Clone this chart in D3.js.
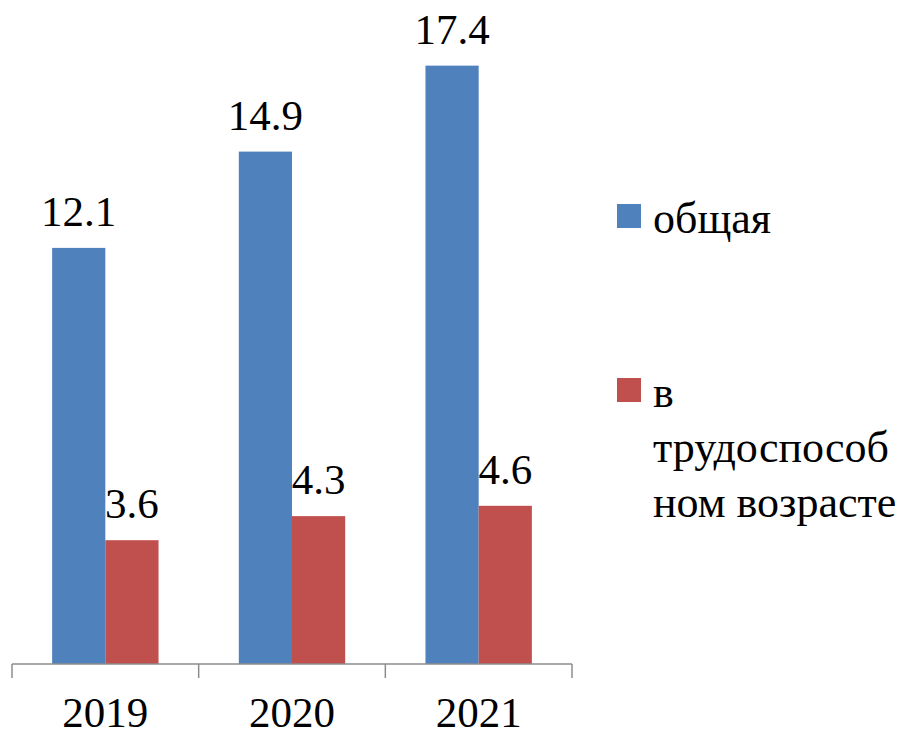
<!DOCTYPE html>
<html>
<head>
<meta charset="utf-8">
<script src="https://cdn.jsdelivr.net/npm/d3@7"></script>
<style>
  body { margin: 0; background: #fff; }
</style>
</head>
<body>
<script>
const years = ["2019", "2020", "2021"];
const seriesNames = ["общая", "в трудоспособном возрасте"];
const total = [12.1, 14.9, 17.4];
const working = [3.6, 4.3, 4.6];
const legendLines = [["общая"], ["в", "трудоспособ", "ном возрасте"]];

const width = 923;
const height = 738;
const colors = ["#4F81BD", "#C0504D"];
const font = "'Liberation Serif', 'Times New Roman', Times, 'DejaVu Serif', serif";

const svg = d3
  .select("body")
  .append("svg")
  .attr("width", width)
  .attr("height", height)
  .style("font-family", font);

const x = d3.scaleBand().domain(years).range([12, 572]);
const inset = x.bandwidth() * 0.215;
const x1 = d3
  .scaleBand()
  .domain([0, 1])
  .range([inset, x.bandwidth() - inset]);
const y = d3.scaleLinear().domain([0, 18]).range([664, 45]);

const rows = years.map((yr, i) => [
  { year: yr, s: 0, v: total[i] },
  { year: yr, s: 1, v: working[i] },
]);

const groups = svg
  .selectAll("g.grp")
  .data(rows)
  .enter()
  .append("g")
  .attr("class", "grp")
  .attr("transform", (d) => `translate(${x(d[0].year)},0)`);

groups
  .selectAll("rect")
  .data((d) => d)
  .enter()
  .append("rect")
  .attr("x", (d) => x1(d.s))
  .attr("y", (d) => y(d.v))
  .attr("width", x1.bandwidth())
  .attr("height", (d) => y(0) - y(d.v))
  .attr("fill", (d) => colors[d.s]);

groups
  .selectAll("text")
  .data((d) => d)
  .enter()
  .append("text")
  .text((d) => d.v.toFixed(1))
  .attr("x", (d) => x1(d.s) + x1.bandwidth() / 2)
  .attr("y", (d) => y(d.v) - 22)
  .attr("text-anchor", "middle")
  .attr("font-size", 43)
  .attr("fill", "#000");

// axis: line + ticks at category boundaries
const bounds = years.map((d) => x(d)).concat([x.range()[1]]);
svg
  .append("line")
  .attr("x1", bounds[0])
  .attr("x2", bounds[bounds.length - 1])
  .attr("y1", y(0))
  .attr("y2", y(0))
  .attr("stroke", "#8c8c8c")
  .attr("stroke-width", 1.5);
svg
  .selectAll("line.tick")
  .data(bounds)
  .enter()
  .append("line")
  .attr("class", "tick")
  .attr("x1", (d) => d)
  .attr("x2", (d) => d)
  .attr("y1", y(0))
  .attr("y2", y(0) + 14)
  .attr("stroke", "#8c8c8c")
  .attr("stroke-width", 1.5);

svg
  .selectAll("text.year")
  .data(years)
  .enter()
  .append("text")
  .attr("class", "year")
  .text((d) => d)
  .attr("x", (d) => x(d) + x.bandwidth() / 2)
  .attr("y", 727)
  .attr("text-anchor", "middle")
  .attr("font-size", 43)
  .attr("fill", "#000");

// legend
const legendY = [204, 378];
const legend = svg
  .selectAll("g.legend")
  .data(legendLines)
  .enter()
  .append("g")
  .attr("class", "legend")
  .attr("transform", (_, i) => `translate(617,${legendY[i]})`);

legend
  .append("rect")
  .attr("width", 24)
  .attr("height", 24)
  .attr("fill", (_, i) => colors[i]);

legend
  .selectAll("text")
  .data((d) => d)
  .enter()
  .append("text")
  .text((d) => d)
  .attr("x", 36)
  .attr("y", (_, j) => 29 + j * 55)
  .attr("font-size", 44)
  .attr("fill", "#000");
</script>
</body>
</html>
